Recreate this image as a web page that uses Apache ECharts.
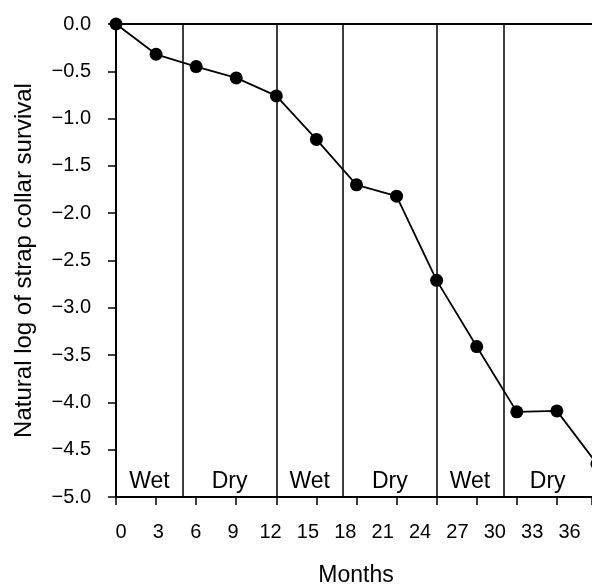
<!DOCTYPE html>
<html>
<head>
<meta charset="utf-8">
<script src="https://cdn.jsdelivr.net/npm/echarts@6/dist/echarts.min.js"></script>
<style>
  html, body { margin: 0; padding: 0; background: #fff; }
  #chart { width: 592px; height: 587px; }
</style>
</head>
<body>
<div id="chart"></div>
<script>
// months and ln(survival)
var months = [0, 3, 6, 9, 12, 15, 18, 21, 24, 27, 30, 33, 36];
var logSurvival = [0, -0.32, -0.45, -0.57, -0.76, -1.22, -1.70, -1.82, -2.71, -3.41, -4.10, -4.09, -4.65];

// season blocks (start, end in months)
var seasonNames = ['Wet', 'Dry', 'Wet', 'Dry', 'Wet', 'Dry'];
var seasonStart = [0, 5, 12, 17, 24, 29];
var seasonEnd = [5, 12, 17, 24, 29, 36];
var seasonBreaks = [5, 12, 17, 24, 29];

var monthTicks = [0, 3, 6, 9, 12, 15, 18, 21, 24, 27, 30, 33, 36];

var font = "'Liberation Sans', Arial, Helvetica, sans-serif";

var chart = echarts.init(document.getElementById('chart'));

var points = months.map(function (m, i) { return [m, logSurvival[i]]; });

var areas = seasonNames.map(function (n, i) {
  return [{ name: n, xAxis: seasonStart[i] }, { xAxis: seasonEnd[i] }];
});

var breaks = seasonBreaks.map(function (b) { return { xAxis: b }; });

var blackLine = { color: '#000', width: 2 };

var option = {
  animation: false,
  grid: [
    // the original plot runs off the right edge of the picture
    { left: 116, right: 0, top: 24, bottom: 90 },
    // only used to place the month labels where they sit in the original
    { left: 121, right: 0, top: 24, bottom: 90 }
  ],
  xAxis: [
    {
      type: 'value', gridIndex: 0, min: 0, max: 35.63, interval: 3,
      axisLine: { show: true, onZero: false, lineStyle: blackLine },
      axisTick: { show: true, inside: false, length: 8, lineStyle: { color: '#000', width: 1.5 } },
      axisLabel: { show: false },
      splitLine: { show: false }
    },
    {
      type: 'value', gridIndex: 1, min: 0, max: 37.8, interval: 3,
      axisLine: { show: false },
      axisTick: { show: false },
      splitLine: { show: false },
      axisLabel: {
        show: true, margin: 25, color: '#000', fontSize: 20, fontFamily: font,
        showMaxLabel: false,
        formatter: function (v) { return monthTicks.indexOf(v) >= 0 ? String(v) : ''; }
      }
    },
    {
      // top frame line
      type: 'value', gridIndex: 0, position: 'top', min: 0, max: 35.63,
      axisLine: { show: true, onZero: false, lineStyle: blackLine },
      axisTick: { show: false }, axisLabel: { show: false }, splitLine: { show: false }
    }
  ],
  yAxis: [
    {
      type: 'value', gridIndex: 0, min: -5, max: 0, interval: 0.5,
      name: 'Natural log of strap collar survival',
      nameLocation: 'middle', nameGap: 80,
      nameTextStyle: { color: '#000', fontSize: 24, fontFamily: font },
      axisLine: { show: true, onZero: false, lineStyle: blackLine },
      axisTick: { show: true, inside: false, length: 8, lineStyle: { color: '#000', width: 1.5 } },
      splitLine: { show: false },
      axisLabel: {
        margin: 25, color: '#000', fontSize: 20, fontFamily: font,
        formatter: function (v) { return v.toFixed(1).replace('-', '\u2212'); }
      }
    },
    { type: 'value', gridIndex: 1, min: -5, max: 0, show: false }
  ],
  graphic: [
    {
      type: 'text', x: 356, y: 576,
      style: { text: 'Months', fill: '#000', font: '23px ' + font, textAlign: 'center', textVerticalAlign: 'middle' }
    }
  ],
  series: [
    {
      type: 'line',
      xAxisIndex: 0, yAxisIndex: 0,
      data: points,
      clip: false,
      symbol: 'circle', symbolSize: 13,
      itemStyle: { color: '#000' },
      lineStyle: { color: '#000', width: 1.8 },
      markLine: {
        silent: true, symbol: 'none',
        label: { show: false },
        lineStyle: { color: '#000', width: 1.5, type: 'solid' },
        data: breaks
      },
      markArea: {
        silent: true,
        itemStyle: { color: 'rgba(0,0,0,0)' },
        label: {
          show: true, position: 'insideBottom', distance: 4,
          color: '#000', fontSize: 23, fontFamily: font
        },
        data: areas
      },
      z: 5
    }
  ]
};

chart.setOption(option);
</script>
</body>
</html>
